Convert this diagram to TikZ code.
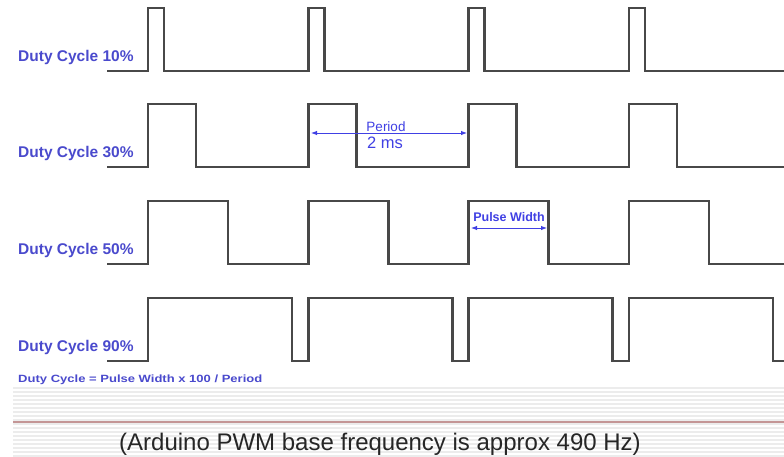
\documentclass[tikz,border=0pt]{standalone}
\usepackage{fontspec}
\setmainfont{Liberation Sans}
\usetikzlibrary{arrows, arrows.meta}
\usetikzlibrary{positioning}
\definecolor{dutyblue}{RGB}{74,74,205}
\definecolor{arrowblue}{RGB}{64,64,228}
\definecolor{wavegray}{RGB}{72,72,72}
\definecolor{stripegray}{RGB}{236,236,236}
\definecolor{redline}{RGB}{196,150,150}
\tikzset{
  wave/.style={draw=wavegray, line width=2.4pt, line join=miter},
  dutylabel/.style={text=dutyblue, font=\bfseries\fontsize{15.5}{18}\selectfont, anchor=base west, inner sep=0pt},
  dimline/.style={draw=arrowblue, line width=0.9pt, {Latex[length=6pt,width=4.5pt]}-{Latex[length=6pt,width=4.5pt]}},
}

\begin{document}
\begin{tikzpicture}[x=1pt, y=-1pt]
\fill[white] (0,0) rectangle (784,456);
\useasboundingbox (0,0) rectangle (784,456);

% Hintergrund-Streifen
\foreach \y in {388,392,...,456}
  \draw[stripegray, line width=1.3pt] (13,\y)--(784,\y);
\draw[redline, line width=2pt] (13,422)--(784,422);

% Signale: low-Pegel / Pulsbreite
\foreach \low/\w in {71/16, 167/48, 264/80, 361/144}{
  \draw[wave] (107,\low)
    \foreach \k in {0,...,3}{
      -- ({148+160.3*\k},\low) -- ({148+160.3*\k},\low-63)
      -- ({148+160.3*\k+\w},\low-63) -- ({148+160.3*\k+\w},\low)
    } -- (784,\low);
}

\node[dutylabel] (dc10) at (18,61) {Duty Cycle 10\%};
\node[dutylabel] (dc30) at (18,157) {Duty Cycle 30\%};
\node[dutylabel] (dc50) at (18,254) {Duty Cycle 50\%};
\node[dutylabel] (dc90) at (18,351) {Duty Cycle 90\%};
\node[text=dutyblue, font=\bfseries\fontsize{10.5}{12}\selectfont, anchor=base west, inner sep=0pt, xscale=1.24] (formula) at (18,382) {Duty Cycle = Pulse Width x 100 / Period};

% Periode
\coordinate (perL) at (311,133);
\coordinate (perR) at (467,133);
\draw[dimline] (perL)--(perR);
\node[text=arrowblue, font=\fontsize{13.5}{15}\selectfont, anchor=base, inner sep=0pt] (period) at (386,131) {Period};
\node[text=arrowblue, font=\fontsize{16.5}{18}\selectfont, anchor=base, inner sep=0pt] (twoms) at (385,148) {2 ms};

% Pulsbreite
\coordinate (pwL) at (471,228);
\coordinate (pwR) at (547,228);
\draw[dimline] (pwL)--(pwR);
\node[text=arrowblue, font=\bfseries\fontsize{12.5}{14}\selectfont, anchor=base, inner sep=0pt] (pulsew) at (509,221) {Pulse Width};

\node[font=\fontsize{24}{27}\selectfont, text=black!85, anchor=base, inner sep=0pt] (caption) at (380,450) {(Arduino PWM base frequency is approx 490 Hz)};
\end{tikzpicture}
\end{document}
